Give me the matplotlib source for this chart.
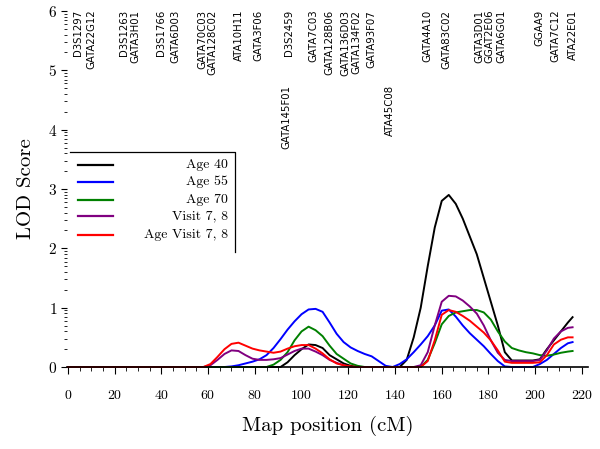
import matplotlib
matplotlib.use('Agg')
import matplotlib.pyplot as plt
import numpy as np

plt.rcParams['font.family'] = ['cmr10', 'DejaVu Serif']
plt.rcParams['axes.formatter.use_mathtext'] = True

# map positions (cM)
pos = [0, 58, 61, 64, 67, 70, 73, 76, 79, 82, 85, 88, 91, 94, 97, 100, 103, 106, 109, 112,
       115, 118, 121, 124, 127, 130, 133, 136, 139, 142, 145, 148, 151, 154, 157, 160, 163,
       166, 169, 172, 175, 178, 181, 184, 187, 190, 193, 196, 199, 202, 205, 208, 211, 214, 216]

age40 = [0, 0, 0, 0, 0, 0, 0, 0, 0, 0, 0, 0, 0, 0.08, 0.2, 0.3, 0.38, 0.37, 0.32, 0.2,
         0.13, 0.06, 0.02, 0, 0, 0, 0, 0, 0, 0, 0.12, 0.5, 1.0, 1.7, 2.35, 2.8, 2.9,
         2.75, 2.5, 2.2, 1.9, 1.5, 1.1, 0.7, 0.25, 0.11, 0.11, 0.11, 0.11, 0.13, 0.3, 0.45, 0.6, 0.75, 0.84]
age55 = [0, 0, 0, 0, 0, 0.01, 0.03, 0.06, 0.09, 0.13, 0.2, 0.32, 0.47, 0.63, 0.77, 0.89, 0.97, 0.98, 0.93, 0.75,
         0.56, 0.42, 0.33, 0.27, 0.22, 0.18, 0.1, 0.02, 0, 0.05, 0.13, 0.25, 0.38, 0.52, 0.7, 0.95, 0.97,
         0.85, 0.7, 0.57, 0.46, 0.35, 0.22, 0.1, 0.01, 0, 0, 0, 0, 0.05, 0.12, 0.22, 0.32, 0.4, 0.42]
age70 = [0, 0, 0, 0, 0, 0, 0, 0, 0, 0, 0, 0.04, 0.12, 0.25, 0.45, 0.6, 0.68, 0.62, 0.52, 0.36,
         0.22, 0.14, 0.06, 0.02, 0, 0, 0, 0, 0, 0, 0, 0, 0, 0.12, 0.4, 0.72, 0.86,
         0.92, 0.94, 0.96, 0.96, 0.92, 0.8, 0.6, 0.43, 0.32, 0.28, 0.25, 0.23, 0.2, 0.19, 0.21, 0.24, 0.26, 0.27]
visit78 = [0, 0, 0.03, 0.12, 0.22, 0.28, 0.27, 0.2, 0.14, 0.12, 0.12, 0.13, 0.15, 0.21, 0.27, 0.31, 0.31, 0.26, 0.2, 0.12,
           0.07, 0.03, 0, 0, 0, 0, 0, 0, 0, 0, 0, 0, 0.03, 0.25, 0.7, 1.1, 1.2,
           1.19, 1.12, 1.02, 0.9, 0.7, 0.45, 0.24, 0.12, 0.1, 0.1, 0.1, 0.1, 0.12, 0.28, 0.48, 0.6, 0.66, 0.67]
agevisit78 = [0, 0, 0.05, 0.17, 0.3, 0.39, 0.41, 0.36, 0.31, 0.28, 0.26, 0.24, 0.26, 0.31, 0.35, 0.37, 0.37, 0.31, 0.23, 0.13,
              0.06, 0.03, 0.01, 0, 0, 0, 0, 0, 0, 0, 0, 0, 0, 0.1, 0.45, 0.88, 0.96,
              0.93, 0.86, 0.78, 0.68, 0.58, 0.45, 0.28, 0.09, 0.07, 0.07, 0.07, 0.07, 0.08, 0.2, 0.38, 0.46, 0.5, 0.5]

series = [age40, age55, age70, visit78, agevisit78]
names = ['Age 40', 'Age 55', 'Age 70', 'Visit 7, 8', 'Age Visit 7, 8']
colors = ['black', 'blue', 'green', 'purple', 'red']

# marker names along the top
markers = ['D3S1297', 'GATA22G12', 'D3S1263', 'GATA3H01', 'D3S1766', 'GATA6D03', 'GATA70C03',
           'GATA128C02', 'ATA10H11', 'GATA3F06', 'GATA145F01', 'D3S2459', 'GATA7C03', 'GATA128B06',
           'GATA136D03', 'GATA134F02', 'GATA93F07', 'ATA45C08', 'GATA4A10', 'GATA83C02',
           'GATA3D01', 'GGAT2E06', 'GATA6G01', 'GGAA9', 'GATA7C12', 'ATA22E01']
marker_pos = [4.5, 10, 24, 28.8, 40, 46, 57.5, 62, 73, 81.5, 93.5, 94.5, 105, 112, 118.8, 123.5,
              130, 138, 154, 162, 176, 180.6, 185.6, 202, 208.5, 216]
marker_low = ['GATA145F01', 'ATA45C08']

fig = plt.figure(figsize=(6, 4.49), dpi=100)
ax = fig.add_axes([0.1113, 0.1826, 0.8683, 0.7929])

for y, c in zip(series, colors):
    ax.plot(pos, y, color=c, lw=1.4, clip_on=False)

for m, p in zip(markers, marker_pos):
    yy = 4.75 if m in marker_low else 6.02
    ax.text(p, yy, m, rotation=90, ha='center', va='top', fontsize=7.3,
            family='DejaVu Sans', clip_on=False)

ax.set_xlim(-0.5, 222.5)
ax.set_ylim(0, 6)
ax.set_xticks(np.arange(0, 221, 20))
ax.set_xticks(np.arange(0, 221, 5), minor=True)
ax.set_yticks(range(7))
ax.set_yticks([k + np.log10(m) for k in range(6) for m in range(2, 10)], minor=True)

for s in ['top', 'right', 'left']:
    ax.spines[s].set_visible(False)
ax.spines['bottom'].set_linewidth(1.2)
ax.tick_params(axis='x', which='major', length=5, pad=11, labelsize=10)
ax.tick_params(axis='x', which='minor', length=3)
ax.tick_params(axis='y', which='major', length=4, pad=3, labelsize=11)
ax.tick_params(axis='y', which='minor', length=2)

ax.set_xlabel('Map position (cM)', fontsize=15, labelpad=10)
ax.set_ylabel('LOD Score', fontsize=15, labelpad=9)

# legend, drawn by hand so the labels sit flush right
tr = ax.transAxes
rows = [0.567, 0.52, 0.469, 0.424, 0.371]
for r, c, n in zip(rows, colors, names):
    ax.plot([0.022, 0.089], [r, r], color=c, lw=1.6, transform=tr, clip_on=False)
    ax.text(0.309, r, n, ha='right', va='center', fontsize=10, transform=tr)
ax.plot([0.006, 0.323, 0.323], [0.604, 0.604, 0.323], color='black', lw=0.9, transform=tr)

fig.savefig('out.png', dpi=100)
